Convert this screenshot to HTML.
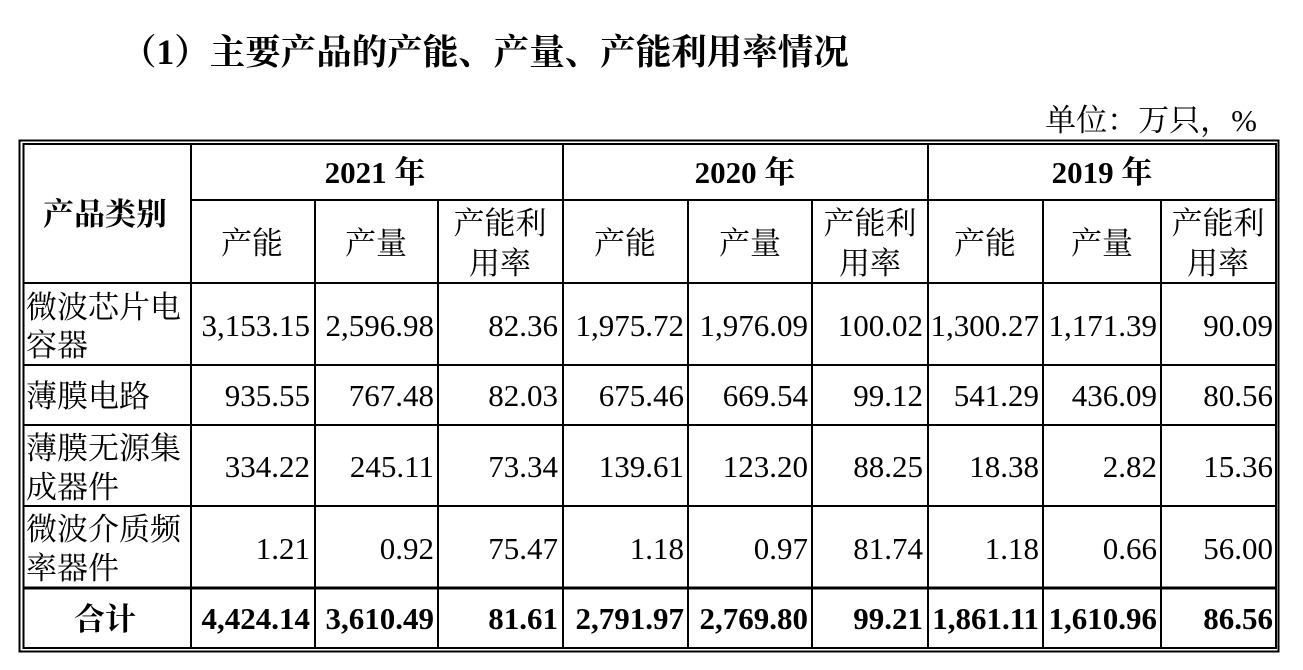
<!DOCTYPE html>
<html><head><meta charset="utf-8"><style>
body{margin:0;background:#fff;}
svg{display:block}
text{font-family:"Liberation Serif","Noto Serif CJK SC",serif;fill:#000;font-size:31px}
.b{font-weight:bold}
</style></head><body>
<svg width="1303" height="670" xmlns="http://www.w3.org/2000/svg">
<text x="121" y="64" class="b" style="font-size:35.5px">（1）主要产品的产能、产量、产能利用率情况</text>
<text x="1257" y="131" text-anchor="end" style="font-size:31px">单位：万只，%</text>
<g stroke="#000" fill="none">
<rect x="19.5" y="140.5" width="1259" height="511" stroke-width="2"/>
<rect x="23.5" y="144" width="1252.5" height="504" stroke-width="2"/>
<g stroke-width="2">
<line x1="191" y1="144" x2="191" y2="648"/>
<line x1="563" y1="144" x2="563" y2="648"/>
<line x1="928" y1="144" x2="928" y2="648"/>
<line x1="315" y1="200" x2="315" y2="648"/>
<line x1="438" y1="200" x2="438" y2="648"/>
<line x1="688" y1="200" x2="688" y2="648"/>
<line x1="812" y1="200" x2="812" y2="648"/>
<line x1="1043" y1="200" x2="1043" y2="648"/>
<line x1="1161" y1="200" x2="1161" y2="648"/>
<line x1="191" y1="200" x2="1276" y2="200"/>
<line x1="24" y1="283" x2="1276" y2="283"/>
<line x1="24" y1="365" x2="1276" y2="365"/>
<line x1="24" y1="425" x2="1276" y2="425"/>
<line x1="24" y1="506" x2="1276" y2="506"/>
</g>
<line x1="24" y1="588" x2="1276" y2="588" stroke-width="3"/>
</g>
<g class="b" text-anchor="middle">
<text x="375" y="183" class="b">2021 年</text>
<text x="745" y="183" class="b">2020 年</text>
<text x="1102" y="183" class="b">2019 年</text>
<text x="105" y="225" class="b">产品类别</text>
</g>
<g text-anchor="middle">
<text x="252" y="254">产能</text><text x="376" y="254">产量</text>
<text x="500" y="234">产能利</text><text x="500" y="274">用率</text>
<text x="625" y="254">产能</text><text x="750" y="254">产量</text>
<text x="870" y="234">产能利</text><text x="870" y="274">用率</text>
<text x="985" y="254">产能</text><text x="1102" y="254">产量</text>
<text x="1218" y="234">产能利</text><text x="1218" y="274">用率</text>
</g>
<g>
<text x="26" y="318">微波芯片电</text><text x="26" y="356">容器</text>
<text x="26" y="407">薄膜电路</text>
<text x="26" y="459">薄膜无源集</text><text x="26" y="498">成器件</text>
<text x="26" y="540">微波介质频</text><text x="26" y="579">率器件</text>
<text x="105" y="630" text-anchor="middle" class="b">合计</text>
</g>
<g text-anchor="end">
<text x="310" y="336">3,153.15</text><text x="434" y="336">2,596.98</text><text x="558" y="336">82.36</text><text x="684" y="336">1,975.72</text><text x="808" y="336">1,976.09</text><text x="923" y="336">100.02</text><text x="1039" y="336">1,300.27</text><text x="1157" y="336">1,171.39</text><text x="1273" y="336">90.09</text>
<text x="310" y="406">935.55</text><text x="434" y="406">767.48</text><text x="558" y="406">82.03</text><text x="684" y="406">675.46</text><text x="808" y="406">669.54</text><text x="923" y="406">99.12</text><text x="1039" y="406">541.29</text><text x="1157" y="406">436.09</text><text x="1273" y="406">80.56</text>
<text x="310" y="477">334.22</text><text x="434" y="477">245.11</text><text x="558" y="477">73.34</text><text x="684" y="477">139.61</text><text x="808" y="477">123.20</text><text x="923" y="477">88.25</text><text x="1039" y="477">18.38</text><text x="1157" y="477">2.82</text><text x="1273" y="477">15.36</text>
<text x="310" y="559">1.21</text><text x="434" y="559">0.92</text><text x="558" y="559">75.47</text><text x="684" y="559">1.18</text><text x="808" y="559">0.97</text><text x="923" y="559">81.74</text><text x="1039" y="559">1.18</text><text x="1157" y="559">0.66</text><text x="1273" y="559">56.00</text>
<g class="b">
<text x="310" y="629" class="b">4,424.14</text><text x="434" y="629" class="b">3,610.49</text><text x="558" y="629" class="b">81.61</text><text x="684" y="629" class="b">2,791.97</text><text x="808" y="629" class="b">2,769.80</text><text x="923" y="629" class="b">99.21</text><text x="1039" y="629" class="b">1,861.11</text><text x="1157" y="629" class="b">1,610.96</text><text x="1273" y="629" class="b">86.56</text>
</g>
</g>
</svg>
</body></html>
